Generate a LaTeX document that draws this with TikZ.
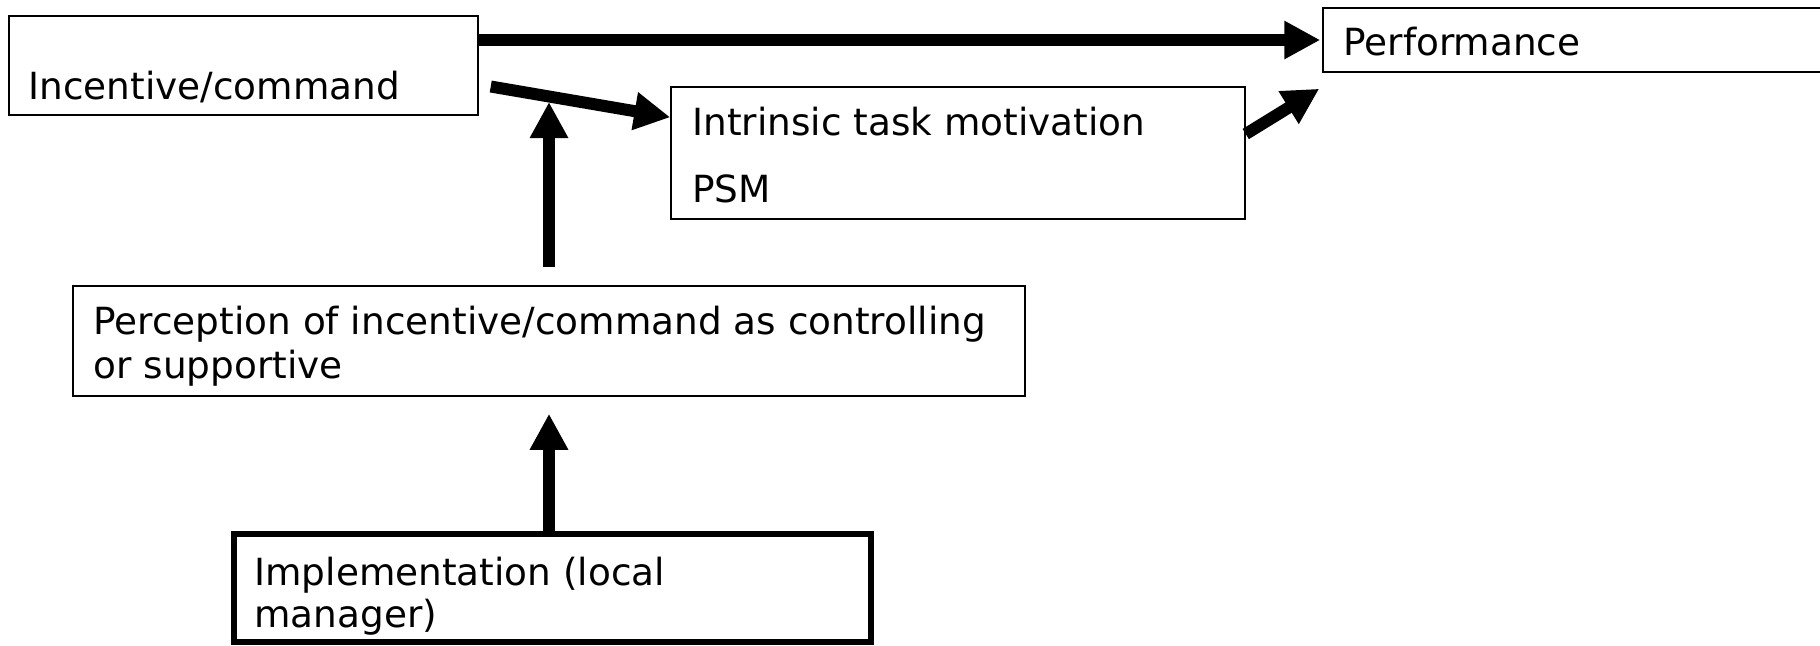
\documentclass[tikz,border=0pt]{standalone}
\usepackage{fontspec}
\setmainfont{DejaVu Sans}
\usetikzlibrary{arrows.meta,fit}

\begin{document}
\begin{tikzpicture}[x=.5pt,y=-.5pt,
  box/.style={draw,line width=.75pt,inner sep=0pt},
  txt/.style={anchor=base west,inner sep=0pt,font=\fontsize{18.7}{22}\selectfont},
  link/.style={line width=6pt,-{Triangle[length=18pt,width=18pt]}}]
\path[use as bounding box] (0,0) rectangle (1820,645);
% boxes
\node[box,fit={(9,16)(478,115)}] (inc) {};
\node[box,fit={(1323,8)(1826,72)}] (perf) {};
\node[box,fit={(671,87)(1245,219)}] (int) {};
\node[box,fit={(73,286)(1025,396)}] (perc) {};
\node[box,line width=3pt,fit={(234,534)(871,642)}] (impl) {};
% texts
\node[txt] (incT) at (28,99) {Incentive/command};
\node[txt] (perfT) at (1343,55) {Performance};
\node[txt] (intT) at (692,135) {Intrinsic task motivation};
\node[txt] (psmT) at (692,202) {PSM};
\node[txt] (percT) at (93,334) {Perception of incentive/command as controlling};
\node[txt] (percT2) at (93,378) {or supportive};
\node[txt] (implT) at (254,585) {Implementation (local};
\node[txt] (implT2) at (254,627) {manager)};
% arrows
\coordinate (hit) at (549,102);
\draw[link] (inc.east |- perf.west) -- ([xshift=-1pt]perf.west);
\draw[link] ([shift={(12,21)}]inc.east) -- ([shift={(0,31)}]int.north west);
\draw[link] ([shift={(0,-19)}]int.east) -- ([shift={(-3,16)}]perf.south west);
\draw[link] ([shift={(0,-18)}]perc.north) -- (perc.north |- hit);
\draw[link] (perc.south |- impl.north) -- ([shift={(0,17)}]perc.south);
\end{tikzpicture}
\end{document}
